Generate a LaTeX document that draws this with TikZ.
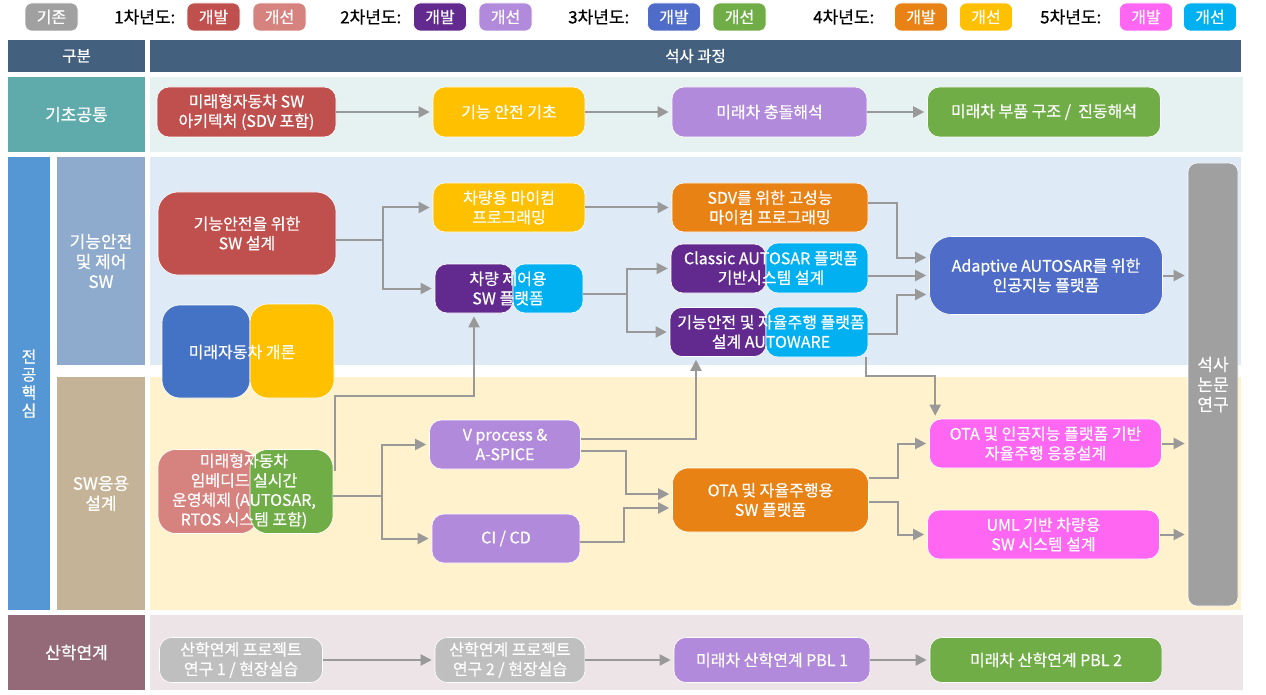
\documentclass[tikz,border=0pt]{standalone}
\usepackage{fontspec}
\setmainfont{Noto Sans CJK KR}[FakeBold=0.6]
\usetikzlibrary{arrows.meta,calc}
\definecolor{cHead}{HTML}{44607F}
\definecolor{cTeal}{HTML}{5FAAAA}
\definecolor{cTealBg}{HTML}{E6F2F1}
\definecolor{cBlueLbl}{HTML}{5597D4}
\definecolor{cSteel}{HTML}{8EAACD}
\definecolor{cTan}{HTML}{C4B396}
\definecolor{cBlueBg}{HTML}{DEEAF6}
\definecolor{cYelBg}{HTML}{FFF2CC}
\definecolor{cMauve}{HTML}{946A79}
\definecolor{cMauveBg}{HTML}{EDE4E7}
\definecolor{cRed}{HTML}{C0504D}
\definecolor{cRedL}{HTML}{D6827F}
\definecolor{cPur}{HTML}{622A8E}
\definecolor{cPurL}{HTML}{B28ADB}
\definecolor{cBlue}{HTML}{4F6DC8}
\definecolor{cBlueB}{HTML}{4472C4}
\definecolor{cGreen}{HTML}{70AD47}
\definecolor{cOrange}{HTML}{E88215}
\definecolor{cYellow}{HTML}{FFC000}
\definecolor{cMag}{HTML}{FF66F2}
\definecolor{cCyan}{HTML}{00B0F0}
\definecolor{cGray}{HTML}{A0A0A0}
\definecolor{cGrayL}{HTML}{BFBFBF}
\definecolor{cArr}{HTML}{999999}
\begin{document}
\begin{tikzpicture}[x=1pt,y=-1pt,
  bx/.style={rectangle, rounded corners=12pt, draw=white, line width=0.6pt, inner sep=0pt},
  txt/.style={text=white, align=center, font=\fontsize{16}{19.5}\selectfont, inner sep=0pt},
  tb/.style={bx, txt},
  legbox/.style={bx, rounded corners=7pt, minimum width=53pt, minimum height=28pt, text=white, font=\fontsize{16}{18}\selectfont},
  legtxt/.style={anchor=west, font=\fontsize{17}{20}\selectfont, inner sep=0pt},
  hdr/.style={fill=cHead, text=white, font=\fontsize{15.5}{18}\selectfont, minimum height=32pt, inner sep=0pt},
  side/.style={text=white, align=center, font=\fontsize{17}{20}\selectfont, inner sep=0pt},
  arr/.style={draw=cArr, line width=2pt, -{Triangle[length=11pt,width=11pt]}, shorten >=3pt},
  ln/.style={draw=cArr, line width=2pt}]
\useasboundingbox (0,0) rectangle (1266,695);
% legend
\node[legbox, fill=cGray] (L0) at (51.5,17) {기존};
\node[legtxt] (Y1) at (114,17) {1차년도:};
\node[legbox, fill=cRed] (L1a) at (213.5,17) {개발};
\node[legbox, fill=cRedL] (L1b) at (279.5,17) {개선};
\node[legtxt] (Y2) at (340,17) {2차년도:};
\node[legbox, fill=cPur] (L2a) at (440,17) {개발};
\node[legbox, fill=cPurL] (L2b) at (505.5,17) {개선};
\node[legtxt] (Y3) at (568,17) {3차년도:};
\node[legbox, fill=cBlue] (L3a) at (674,17) {개발};
\node[legbox, fill=cGreen] (L3b) at (739.5,17) {개선};
\node[legtxt] (Y4) at (813,17) {4차년도:};
\node[legbox, fill=cOrange] (L4a) at (921,17) {개발};
\node[legbox, fill=cYellow] (L4b) at (986,17) {개선};
\node[legtxt] (Y5) at (1040,17) {5차년도:};
\node[legbox, fill=cMag] (L5a) at (1146,17) {개발};
\node[legbox, fill=cCyan] (L5b) at (1210,17) {개선};
% header
\node[hdr, minimum width=137pt] (H1) at (76.5,56) {구분};
\node[hdr, minimum width=1091pt] (H2) at (695.5,56) {석사 과정};
% backgrounds
\fill[cTealBg] (150,77) rectangle (1243,152);
\fill[cBlueBg] (150,157) rectangle (1241,365);
\fill[cYelBg] (150,377) rectangle (1241,610);
\fill[cMauveBg] (150,615) rectangle (1243,690);
% side labels
\node[side, fill=cTeal, minimum width=137pt, minimum height=75pt] (S1) at (76.5,114.5) {기초공통};
\node[side, fill=cBlueLbl, minimum width=42pt, minimum height=453pt, font=\fontsize{16}{18}\selectfont] (S2) at (29,383.5) {전\\공\\핵\\심};
\node[side, fill=cSteel, minimum width=88pt, minimum height=208pt] (S3) at (101,261) {기능안전\\및 제어\\SW};
\node[side, fill=cTan, minimum width=88pt, minimum height=233pt] (S4) at (101,493.5) {SW응용\\설계};
\node[side, fill=cMauve, minimum width=137pt, minimum height=75pt] (S5) at (76.5,652.5) {산학연계};
% row 1
\node[tb, fill=cRed, minimum width=179pt, minimum height=50pt] (A1) at (246.5,112) {미래형자동차 SW\\아키텍처 (SDV 포함)};
\node[tb, fill=cYellow, minimum width=152pt, minimum height=50pt] (A2) at (509,112) {기능 안전 기초};
\node[tb, fill=cPurL, minimum width=195pt, minimum height=50pt] (A3) at (769.5,112) {미래차 충돌해석};
\node[tb, fill=cGreen, minimum width=233pt, minimum height=50pt] (A4) at (1044,112) {미래차 부품 구조 /\ \ 진동해석};
% blue section
\node[tb, fill=cRed, rounded corners=20pt, minimum width=178pt, minimum height=83pt] (B1) at (247,233.5) {기능안전을 위한\\SW 설계};
\node[bx, fill=cBlueB, rounded corners=18pt, minimum width=88pt, minimum height=93pt] (B2a) at (206,351.5) {};
\node[bx, fill=cYellow, rounded corners=18pt, minimum width=84pt, minimum height=94pt] (B2b) at (292,351) {};
\node[txt] (B2) at (242,352) {미래자동차 개론};
\node[tb, fill=cYellow, minimum width=152pt, minimum height=49pt] (B3) at (509,207.5) {차량용 마이컴\\프로그래밍};
\node[bx, fill=cPur, minimum width=78pt, minimum height=49pt] (B4a) at (474,288.5) {};
\node[bx, fill=cCyan, minimum width=70pt, minimum height=49pt] (B4b) at (548,288.5) {};
\node[txt] (B4) at (508,288.5) {차량 제어용\\SW 플랫폼};
\node[tb, fill=cOrange, minimum width=196pt, minimum height=49pt] (B5) at (770,207.5) {SDV를 위한 고성능\\마이컴 프로그래밍};
\node[bx, fill=cPur, minimum width=95pt, minimum height=49pt] (B6a) at (718.5,268.5) {};
\node[bx, fill=cCyan, minimum width=102pt, minimum height=50pt] (B6b) at (817,268) {};
\node[txt] (B6) at (771,268) {Classic AUTOSAR 플랫폼\\기반시스템 설계};
\node[bx, fill=cPur, minimum width=96pt, minimum height=49pt] (B7a) at (718,332) {};
\node[bx, fill=cCyan, minimum width=102pt, minimum height=50pt] (B7b) at (817,332) {};
\node[txt] (B7) at (771,332) {기능안전 및 자율주행 플랫폼\\설계 AUTOWARE};
\node[tb, fill=cBlue, rounded corners=22pt, minimum width=233pt, minimum height=78pt] (B8) at (1046,275.5) {Adaptive AUTOSAR를 위한\\인공지능 플랫폼};
\node[bx, fill=cGray, rounded corners=9pt, minimum width=50pt, minimum height=443pt, txt, font=\fontsize{17}{20}\selectfont] (T) at (1213,384.5) {석사\\논문\\연구};
% yellow section
\node[bx, fill=cRedL, rounded corners=18pt, minimum width=100pt, minimum height=84pt] (C1a) at (208,491.5) {};
\node[bx, fill=cGreen, rounded corners=18pt, minimum width=83pt, minimum height=84pt] (C1b) at (291.5,491.5) {};
\node[txt] (C1) at (244,491) {미래형자동차\\임베디드 실시간\\운영체제 (AUTOSAR,\\RTOS 시스템 포함)};
\node[tb, fill=cPurL, minimum width=151pt, minimum height=49pt] (C2) at (505,444.5) {V process \&\\A-SPICE};
\node[tb, fill=cPurL, minimum width=148pt, minimum height=49pt] (C3) at (506,538.5) {CI / CD};
\node[tb, fill=cOrange, rounded corners=16pt, minimum width=196pt, minimum height=64pt] (C4) at (770.5,500) {OTA 및 자율주행용\\SW 플랫폼};
\node[tb, fill=cMag, minimum width=232pt, minimum height=49pt] (C5) at (1045.5,443.5) {OTA 및 인공지능 플랫폼 기반\\자율주행 응용설계};
\node[tb, fill=cMag, minimum width=232pt, minimum height=49pt] (C6) at (1043.5,534.5) {UML 기반 차량용\\SW 시스템 설계};
% bottom row
\node[tb, fill=cGrayL, minimum width=163pt, minimum height=45pt] (D1) at (241,660) {산학연계 프로젝트\\연구 1 / 현장실습};
\node[tb, fill=cGrayL, minimum width=150pt, minimum height=45pt] (D2) at (510,660) {산학연계 프로젝트\\연구 2 / 현장실습};
\node[tb, fill=cPurL, minimum width=196pt, minimum height=45pt] (D3) at (772,660) {미래차 산학연계 PBL 1};
\node[tb, fill=cGreen, minimum width=232pt, minimum height=45pt] (D4) at (1046,660) {미래차 산학연계 PBL 2};
% connectors row 1
\draw[arr] (A1.east) -- (A1.east -| A2.west);
\draw[arr] (A2.east) -- (A2.east -| A3.west);
\draw[arr] (A3.east) -- (A3.east -| A4.west);
% blue section connectors
\draw[ln] ($(B1.east)+(0,6)$) -- ++(47,0) coordinate (j1);
\draw[arr] (j1) |- (B3.west);
\draw[arr] (j1) |- (B4a.west);
\draw[arr] (B3.east) -- (B5.west);
\draw[ln] ($(B4b.east)+(0,5.5)$) -- ++(44,0) coordinate (j2);
\draw[arr] (j2) |- (B6a.west);
\draw[arr] (j2) |- (B7a.west);
\draw[arr] ($(B5.east)+(0,-4)$) -- ++(29,0) |- ($(B8.west)+(0,-18)$);
\draw[arr] (B8.west -| B6b.east) -- (B8.west);
\draw[arr] ($(B7b.east)+(0,2)$) -- ++(29,0) |- ($(B8.west)+(0,19)$);
\draw[arr] (B8.east) -- (B8.east -| T.west);
\draw[arr] ($(B7b.south east)+(-2,0)$) -- ++(0,19) -| ($(C5.north west)+(6,0)$);
% yellow section connectors
\draw[arr] ($(C1b.east)+(2,-21)$) -- ++(0,-75) -| (B4a.south);
\draw[ln] ($(C1b.east)+(0,4.5)$) -- ++(49,0) coordinate (j3);
\draw[arr] (j3) |- (C2.west);
\draw[arr] (j3) |- (C3.west);
\draw[arr] ($(C2.east)+(0,-6)$) -| ($(B7a.south)+(-22,0)$);
\draw[arr] ($(C2.east)+(0,6)$) -- ++(45,0) |- ($(C4.west)+(0,-6)$);
\draw[arr] ($(C3.east)+(0,3.5)$) -- ++(44,0) |- ($(C4.west)+(0,8)$);
\draw[arr] ($(C4.east)+(0,-22)$) -- ++(29,0) |- (C5.west);
\draw[arr] ($(C4.east)+(0,2)$) -- ++(29,0) |- (C6.west);
\draw[arr] (C5.east) -- (C5.east -| T.west);
\draw[arr] (C6.east) -- (C6.east -| T.west);
% bottom connectors
\draw[arr] (D1.east) -- (D2.west);
\draw[arr] (D2.east) -- (D3.west);
\draw[arr] (D3.east) -- (D4.west);
\end{tikzpicture}
\end{document}
